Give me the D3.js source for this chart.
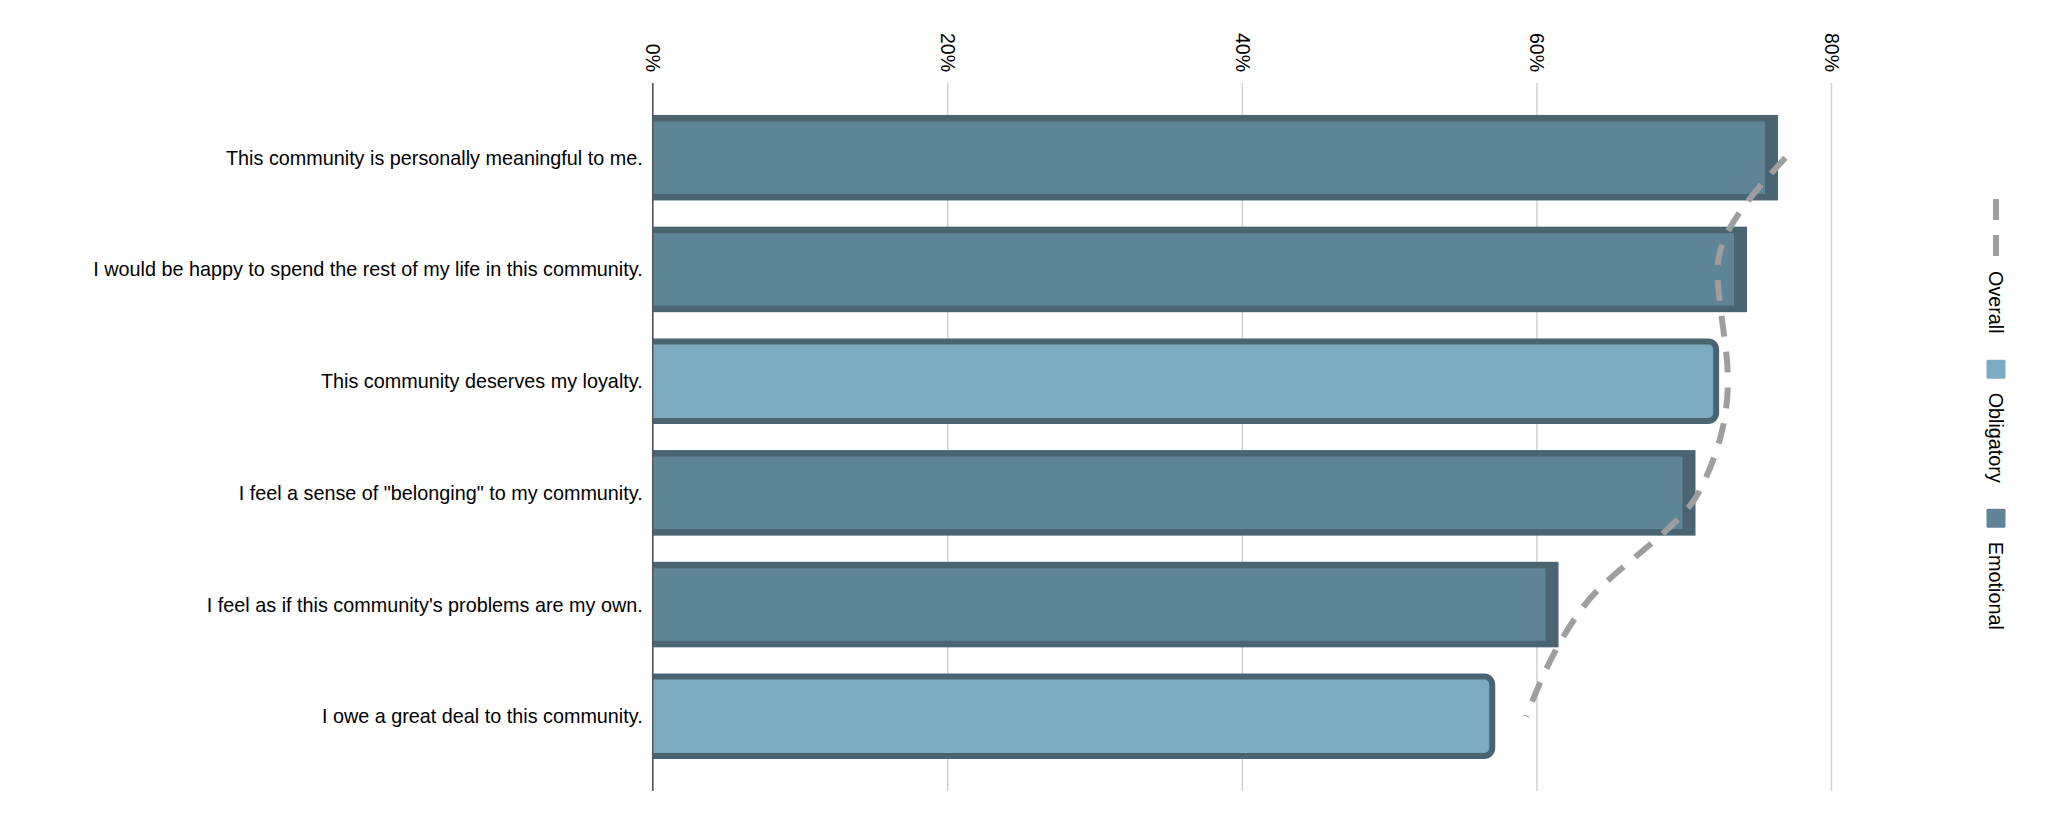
<!DOCTYPE html>
<html>
<head>
<meta charset="utf-8">
<script src="https://cdn.jsdelivr.net/npm/d3@7"></script>
<style>
  html, body { margin: 0; padding: 0; background: #fff; }
  svg { display: block; font-family: Arial, "Liberation Sans", sans-serif; }
</style>
</head>
<body>
<svg id="chart" width="2048" height="833"></svg>
<script>
const categories = [
  "This community is personally meaningful to me.",
  "I would be happy to spend the rest of my life in this community.",
  "This community deserves my loyalty.",
  "I feel a sense of \"belonging\" to my community.",
  "I feel as if this community's problems are my own.",
  "I owe a great deal to this community."
];
const barTypes = ["Emotional", "Emotional", "Obligatory", "Emotional", "Emotional", "Obligatory"];
const barValues = [76.4, 74.3, 72.2, 70.8, 61.5, 57.0];
const overallValues = [76.9, 72.3, 73.0, 71.0, 63.3, 59.3];
const tickValues = [0, 20, 40, 60, 80];
const legendLabels = ["Overall", "Obligatory", "Emotional"];

const colors = {
  Emotional: "#5f8496",
  Obligatory: "#7baac1",
  border: "#4a6472",
  line: "#9e9e9e",
  grid: "#d2d2d2",
  axis: "#555"
};

const svg = d3.select("#chart");
const yTop = 83, yBottom = 791;
const x = d3.scaleLinear().domain([0, 80]).range([652.7, 1831]);
const y = d3.scaleBand().domain(categories).range([yTop, yBottom])
  .paddingInner(0.2345).paddingOuter(0.286);
const bw = y.bandwidth();

// grid + top axis
const axis = d3.axisTop(x).tickValues(tickValues).tickFormat(d => d + "%")
  .tickSize(-(yBottom - yTop)).tickPadding(0);
const gAxis = svg.append("g").attr("transform", `translate(0,${yTop})`).call(axis);
gAxis.select(".domain").remove();
gAxis.selectAll(".tick line").attr("stroke", colors.grid).attr("stroke-width", 1.5);
gAxis.selectAll(".tick text")
  .attr("x", 0).attr("y", 0).attr("dy", "0.35em")
  .attr("transform", "translate(0,-11) rotate(90)")
  .attr("text-anchor", "end")
  .attr("fill", "#000")
  .style("font-size", "19.5px");

// bars
const bars = svg.append("g");
categories.forEach((c, i) => {
  const t = barTypes[i];
  const v = barValues[i];
  const y0 = y(c);
  const x0 = x(0), x1 = x(v);
  if (t === "Emotional") {
    bars.append("rect").attr("x", x0).attr("y", y0).attr("width", x1 - x0).attr("height", bw)
      .attr("fill", colors.border);
    bars.append("rect").attr("x", x0).attr("y", y0 + 6.5).attr("width", x1 - x0 - 13).attr("height", bw - 13)
      .attr("fill", colors.Emotional);
  } else {
    const sw = 6, r = 8;
    const yt = y0 + sw / 2, yb = y0 + bw - sw / 2, xr = x1;
    const p = d3.path();
    p.moveTo(x0 - 5, yt);
    p.lineTo(xr - r, yt);
    p.arcTo(xr, yt, xr, yt + r, r);
    p.lineTo(xr, yb - r);
    p.arcTo(xr, yb, xr - r, yb, r);
    p.lineTo(x0 - 5, yb);
    bars.append("rect").attr("x", x0).attr("y", yt).attr("width", xr - x0 - 1).attr("height", yb - yt)
      .attr("fill", colors.Obligatory);
    bars.append("path").attr("d", p.toString()).attr("fill", "none")
      .attr("stroke", colors.border).attr("stroke-width", sw);
  }
});

// white cover left of axis for obligatory stroke overshoot
svg.append("rect").attr("x", x(0) - 8).attr("y", yTop).attr("width", 8).attr("height", yBottom - yTop).attr("fill", "#fff");

// zero axis line
svg.append("line").attr("x1", x(0)).attr("x2", x(0)).attr("y1", yTop).attr("y2", yBottom)
  .attr("stroke", colors.axis).attr("stroke-width", 1.5);

// category labels
svg.append("g").selectAll("text").data(categories).join("text")
  .attr("x", x(0) - 10)
  .attr("y", d => y(d) + bw / 2)
  .attr("dy", "0.35em")
  .attr("text-anchor", "end")
  .style("font-size", "19.8px")
  .attr("fill", "#000")
  .text(d => d);

// overall line
const line = d3.line()
  .x((d, i) => x(overallValues[i]))
  .y((d, i) => y(d) + bw / 2)
  .curve(d3.curveMonotoneY);
svg.append("path").datum(categories).attr("d", line)
  .attr("fill", "none").attr("stroke", colors.line).attr("stroke-width", 6)
  .attr("stroke-dasharray", "21,15");

// legend (rotated)
const lg = svg.append("g").attr("transform", "translate(1996,199) rotate(90)");
let pos = 0;
legendLabels.forEach(name => {
  if (name === "Overall") {
    lg.append("line").attr("x1", pos).attr("x2", pos + 58).attr("y1", 0).attr("y2", 0)
      .attr("stroke", colors.line).attr("stroke-width", 6).attr("stroke-dasharray", "21,15");
    pos += 58;
  } else {
    lg.append("rect").attr("x", pos).attr("y", -9.5).attr("width", 19).attr("height", 19)
      .attr("rx", 1.5).attr("fill", colors[name]);
    pos += 19;
  }
  pos += 14;
  const t = lg.append("text").attr("x", pos).attr("y", 0).attr("dy", "0.35em")
    .style("font-size", "19.8px").attr("fill", "#000").text(name);
  pos += t.node().getComputedTextLength() + 26;
});
</script>
</body>
</html>
